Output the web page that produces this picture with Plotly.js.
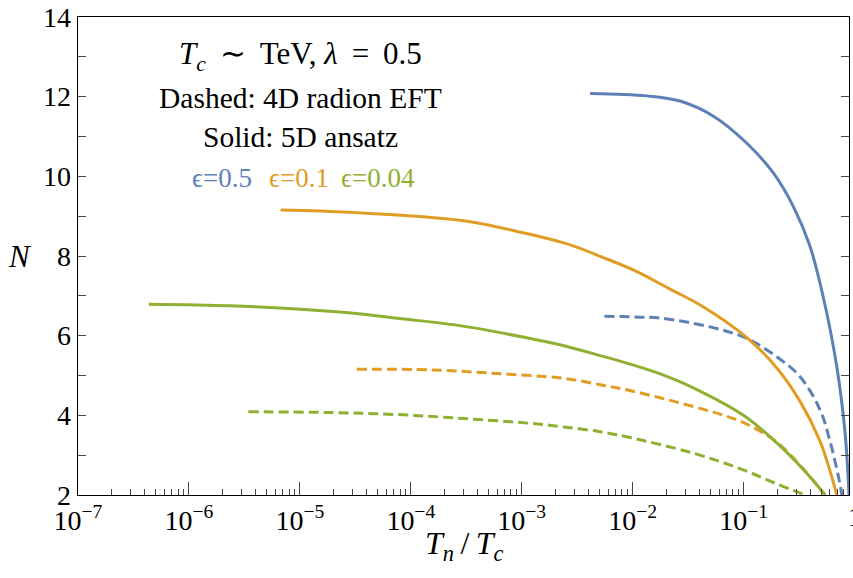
<!DOCTYPE html>
<html>
<head>
<meta charset="utf-8">
<script src="https://cdn.plot.ly/plotly-3.0.1.min.js"></script>
<style>html,body{margin:0;padding:0;background:#fff;}#chart{width:853px;height:578px;}</style>
</head>
<body>
<div id="chart"></div>
<script>
// ---- data ----
const blueSolidX = [4.13e-3, 0.0134, 0.0267, 0.0535, 0.107, 0.186, 0.281, 0.398, 0.525, 0.692, 0.822, 0.893];
const blueSolidY = [12.08, 12.02, 11.89, 11.51, 10.83, 10.08, 9.24, 8.23, 6.94, 5.22, 3.55, 2.0];

const blueDashX = [5.56e-3, 0.0101, 0.0177, 0.0499, 0.107, 0.199, 0.323, 0.490, 0.597, 0.716, 0.769];
const blueDashY = [6.49, 6.47, 6.44, 6.22, 5.93, 5.47, 4.97, 4.13, 3.38, 2.46, 2.0];

const orangeSolidX = [6.71e-6, 1.52e-5, 4.29e-5, 1.21e-4, 3.42e-4, 9.66e-4, 2.73e-3, 5.45e-3, 0.0109, 0.0217, 0.0435, 0.107, 0.199, 0.323, 0.490, 0.597, 0.692];
const orangeSolidY = [9.155, 9.13, 9.07, 8.99, 8.86, 8.60, 8.28, 7.96, 7.61, 7.17, 6.72, 5.95, 5.19, 4.35, 3.34, 2.63, 2.0];

const orangeDashX = [3.25e-5, 1.49e-4, 5.96e-4, 2.37e-3, 5.08e-3, 8.85e-3, 0.0177, 0.0352, 0.0612, 0.0995, 0.199, 0.346, 0.543];
const orangeDashY = [5.16, 5.14, 5.05, 4.93, 4.77, 4.64, 4.44, 4.22, 4.03, 3.82, 3.33, 2.65, 2.0];

const greenSolidX = [4.35e-7, 2.34e-6, 9.35e-6, 3.73e-5, 8.0e-5, 2.97e-4, 1.19e-3, 2.21e-3, 5.08e-3, 8.85e-3, 0.0177, 0.0352, 0.0995, 0.199, 0.346, 0.543];
const greenSolidY = [6.79, 6.75, 6.67, 6.54, 6.43, 6.24, 5.93, 5.77, 5.50, 5.31, 5.04, 4.69, 4.00, 3.31, 2.64, 2.0];

const greenDashX = [3.43e-6, 1.87e-5, 7.46e-5, 2.97e-4, 1.19e-3, 2.37e-3, 5.08e-3, 8.85e-3, 0.0352, 0.0995, 0.199, 0.359];
const greenDashY = [4.09, 4.07, 4.02, 3.92, 3.80, 3.71, 3.59, 3.46, 3.05, 2.63, 2.28, 2.0];

const xTickVals = [1e-7, 1e-6, 1e-5, 1e-4, 1e-3, 1e-2, 1e-1];
const xTickText = ["10<sup>−7</sup>", "10<sup>−6</sup>", "10<sup>−5</sup>", "10<sup>−4</sup>", "10<sup>−3</sup>", "10<sup>−2</sup>", "10<sup>−1</sup>"];
const yTickVals = [2, 4, 6, 8, 10, 12, 14];

// ---- styles ----
const BLUE = "#5E81B5", ORANGE = "#E19C24", GREEN = "#8FB032";
const FONT = "Liberation Serif, Times New Roman, serif";
const LW = 3;
const DASH = "10px,5px";
const SP = "\u2009";
const NB = "\u00A0";

// minor tick positions on the log axis (2..9 x each decade)
const xMinor = [];
for (let e = -7; e <= -1; e++) {
  for (let m = 2; m <= 9; m++) xMinor.push(m * Math.pow(10, e));
}

function tr(x, y, color, dash) {
  return {
    x: x, y: y, type: "scatter", mode: "lines",
    line: {color: color, width: LW, dash: dash || "solid", shape: "spline", smoothing: 1},
    hoverinfo: "skip", showlegend: false
  };
}

const data = [
  tr(greenDashX, greenDashY, GREEN, DASH),
  tr(orangeDashX, orangeDashY, ORANGE, DASH),
  tr(blueDashX, blueDashY, BLUE, DASH),
  tr(greenSolidX, greenSolidY, GREEN),
  tr(orangeSolidX, orangeSolidY, ORANGE),
  tr(blueSolidX, blueSolidY, BLUE)
];

const headText =
  "<i>T</i><sub><i>c</i></sub>" + NB + SP + "∼" + NB + SP + "TeV," + NB +
  "<i>λ</i>" + NB + SP + "=" + NB + SP + "0.5";

const layout = {
  width: 853, height: 578,
  margin: {l: 78, r: 4, t: 17, b: 83},
  paper_bgcolor: "#fff", plot_bgcolor: "#fff",
  font: {family: FONT, color: "#000", size: 28},
  showlegend: false,
  xaxis: {
    type: "log", range: [-7, -0.05],
    tickmode: "array", tickvals: xTickVals, ticktext: xTickText,
    ticks: "inside", ticklen: 13, tickwidth: 1, tickcolor: "#444",
    minor: {tickmode: "array", tickvals: xMinor, ticks: "inside", ticklen: 6, tickwidth: 1, tickcolor: "#444", showgrid: false},
    showline: true, linecolor: "#000", linewidth: 1.3, mirror: true,
    showgrid: false, zeroline: false,
    tickfont: {family: FONT, size: 28, color: "#000"},
    title: {text: ""}
  },
  yaxis: {
    range: [2, 14],
    tickmode: "array", tickvals: yTickVals,
    ticks: "inside", ticklen: 8, tickwidth: 1, tickcolor: "#444",
    minor: {dtick: 1, ticks: "inside", ticklen: 8, tickwidth: 1, tickcolor: "#444", showgrid: false},
    showline: true, linecolor: "#000", linewidth: 1.3, mirror: "ticks",
    showgrid: false, zeroline: false,
    tickfont: {family: FONT, size: 28, color: "#000"},
    title: {text: ""}
  },
  annotations: [
    // axis titles
    {xref: "paper", yref: "paper", x: 0.501, y: -0.106, xanchor: "center", yanchor: "middle",
     text: "<i>T</i><sub><i>n</i></sub>" + SP + "/" + SP + "<i>T</i><sub><i>c</i></sub>", showarrow: false,
     font: {family: FONT, size: 32, color: "#000"}},
    {xref: "paper", yref: "paper", x: -0.075, y: 0.5, xanchor: "center", yanchor: "middle",
     text: "<i>N</i>", showarrow: false, font: {family: FONT, size: 31, color: "#000"}},
    // tick label at x = 1 (cut by the page edge as in the reference)
    {xref: "paper", yref: "paper", x: 1.0072, y: -0.046, xanchor: "center", yanchor: "middle",
     text: "1", showarrow: false, font: {family: FONT, size: 28, color: "#000"}},
    // text block
    {xref: "paper", yref: "paper", x: 0.288, y: 0.918, xanchor: "center", yanchor: "middle",
     text: headText, showarrow: false, font: {family: FONT, size: 31, color: "#000"}},
    {xref: "paper", yref: "paper", x: 0.288, y: 0.831, xanchor: "center", yanchor: "middle",
     text: "Dashed: 4D radion EFT", showarrow: false, font: {family: FONT, size: 29.5, color: "#000"}},
    {xref: "paper", yref: "paper", x: 0.288, y: 0.749, xanchor: "center", yanchor: "middle",
     text: "Solid: 5D ansatz", showarrow: false, font: {family: FONT, size: 29.5, color: "#000"}},
    {xref: "paper", yref: "paper", x: 0.187, y: 0.663, xanchor: "center", yanchor: "middle",
     text: "ϵ=0.5", showarrow: false, font: {family: FONT, size: 27, color: BLUE}},
    {xref: "paper", yref: "paper", x: 0.287, y: 0.663, xanchor: "center", yanchor: "middle",
     text: "ϵ=0.1", showarrow: false, font: {family: FONT, size: 27, color: ORANGE}},
    {xref: "paper", yref: "paper", x: 0.389, y: 0.663, xanchor: "center", yanchor: "middle",
     text: "ϵ=0.04", showarrow: false, font: {family: FONT, size: 27, color: GREEN}}
  ]
};

Plotly.newPlot("chart", data, layout, {staticPlot: true, displayModeBar: false});
</script>
</body>
</html>
